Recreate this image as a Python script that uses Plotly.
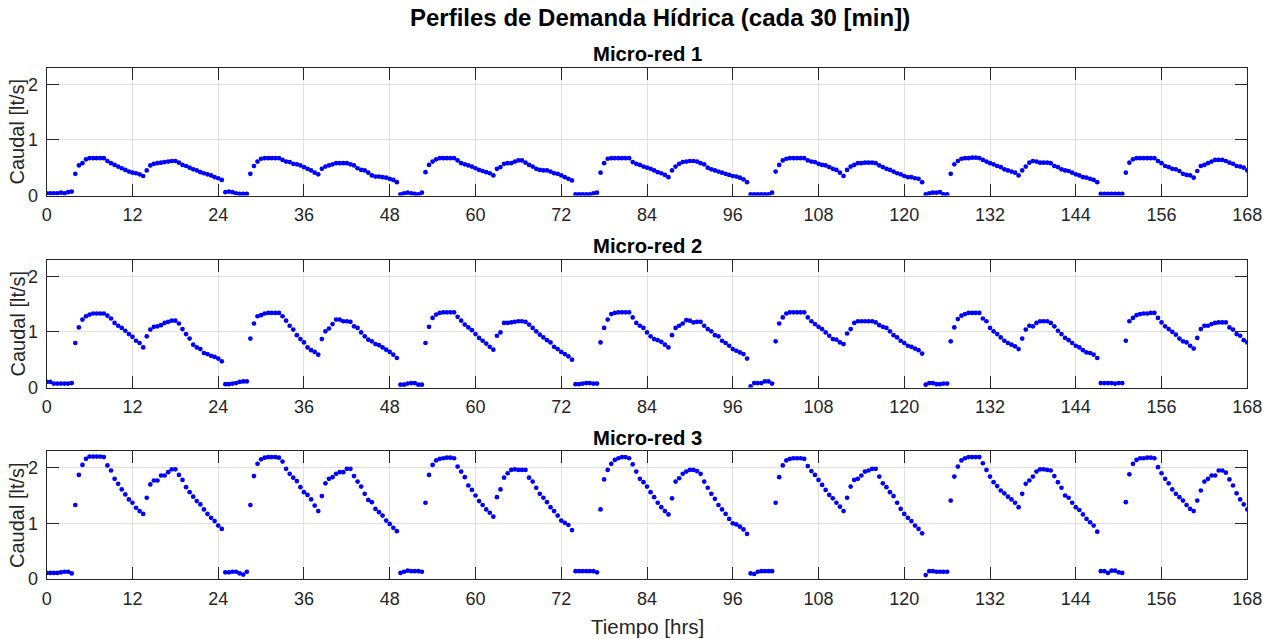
import numpy as np
import plotly.graph_objects as go

# time axis: one sample every 30 min, 0 .. 168 h
t = np.arange(0, 168.0 + 0.25, 0.5)

# ---------------- Micro-red 1 ----------------
mr1_d1 = [0.04, 0.04, 0.04, 0.04, 0.05, 0.04, 0.06, 0.07,
          0.39, 0.54, 0.58, 0.65, 0.67, 0.67, 0.67, 0.67, 0.67, 0.62,
          0.58, 0.55, 0.52, 0.49, 0.46, 0.43, 0.41, 0.40, 0.38, 0.35,
          0.45, 0.54, 0.57, 0.58, 0.59, 0.60, 0.61, 0.62, 0.62, 0.59,
          0.55, 0.53, 0.50, 0.47, 0.45, 0.42, 0.40, 0.38, 0.36, 0.33,
          0.31, 0.28]
mr1_d2 = [0.06, 0.07, 0.06, 0.04, 0.03, 0.03, 0.03,
          0.39, 0.53, 0.61, 0.66, 0.67, 0.67, 0.67, 0.67, 0.67, 0.64,
          0.61, 0.60, 0.57, 0.56, 0.54, 0.51, 0.48, 0.45, 0.41, 0.38,
          0.48, 0.52, 0.54, 0.56, 0.58, 0.58, 0.58, 0.58, 0.56, 0.54,
          0.49, 0.46, 0.45, 0.41, 0.36, 0.34, 0.34, 0.33, 0.32, 0.30,
          0.28, 0.24]
mr1_d3 = [0.02, 0.04, 0.05, 0.04, 0.03, 0.02, 0.05,
          0.42, 0.55, 0.61, 0.65, 0.67, 0.67, 0.67, 0.67, 0.67, 0.63,
          0.58, 0.56, 0.54, 0.52, 0.49, 0.46, 0.44, 0.42, 0.40, 0.36,
          0.48, 0.51, 0.57, 0.58, 0.58, 0.61, 0.63, 0.63, 0.59, 0.55,
          0.52, 0.48, 0.46, 0.45, 0.45, 0.43, 0.40, 0.39, 0.36, 0.33,
          0.30, 0.27]
mr1_d4 = [0.02, 0.02, 0.02, 0.02, 0.02, 0.04, 0.05,
          0.41, 0.58, 0.66, 0.67, 0.67, 0.67, 0.67, 0.67, 0.67, 0.60,
          0.57, 0.55, 0.52, 0.50, 0.48, 0.45, 0.42, 0.40, 0.37, 0.33,
          0.45, 0.52, 0.57, 0.60, 0.61, 0.62, 0.62, 0.61, 0.58, 0.56,
          0.50, 0.47, 0.45, 0.43, 0.41, 0.39, 0.37, 0.35, 0.34, 0.32,
          0.29, 0.24]
mr1_d5 = [0.02, 0.02, 0.02, 0.02, 0.02, 0.02, 0.05,
          0.43, 0.55, 0.63, 0.66, 0.67, 0.67, 0.67, 0.67, 0.67, 0.63,
          0.61, 0.60, 0.57, 0.55, 0.54, 0.51, 0.48, 0.46, 0.41, 0.35,
          0.46, 0.52, 0.55, 0.58, 0.58, 0.59, 0.59, 0.59, 0.58, 0.54,
          0.51, 0.48, 0.46, 0.43, 0.40, 0.38, 0.35, 0.33, 0.33, 0.31,
          0.30, 0.24]
mr1_d6 = [0.02, 0.04, 0.05, 0.05, 0.06, 0.02, 0.02,
          0.39, 0.56, 0.62, 0.66, 0.67, 0.67, 0.68, 0.68, 0.67, 0.64,
          0.61, 0.58, 0.56, 0.53, 0.51, 0.47, 0.45, 0.43, 0.41, 0.36,
          0.45, 0.52, 0.59, 0.62, 0.61, 0.59, 0.59, 0.59, 0.58, 0.53,
          0.51, 0.47, 0.45, 0.44, 0.41, 0.38, 0.36, 0.33, 0.32, 0.30,
          0.28, 0.24]
mr1_d7 = [0.03, 0.03, 0.03, 0.03, 0.03, 0.03, 0.03,
          0.41, 0.59, 0.65, 0.67, 0.67, 0.67, 0.67, 0.67, 0.67, 0.62,
          0.58, 0.53, 0.51, 0.48, 0.47, 0.44, 0.39, 0.37, 0.36, 0.32,
          0.44, 0.53, 0.55, 0.58, 0.61, 0.64, 0.64, 0.64, 0.62, 0.59,
          0.57, 0.53, 0.52, 0.50, 0.45]

# ---------------- Micro-red 2 ----------------
mr2_d1 = [0.10, 0.10, 0.07, 0.07, 0.07, 0.07, 0.07, 0.08,
          0.80, 1.08, 1.22, 1.28, 1.31, 1.33, 1.33, 1.33, 1.33, 1.29,
          1.24, 1.16, 1.11, 1.07, 1.02, 0.96, 0.91, 0.84, 0.80, 0.72,
          0.92, 1.04, 1.09, 1.10, 1.12, 1.16, 1.18, 1.20, 1.20, 1.15,
          1.05, 0.96, 0.88, 0.77, 0.72, 0.69, 0.62, 0.60, 0.57, 0.55,
          0.52, 0.47]
mr2_d2 = [0.06, 0.06, 0.07, 0.08, 0.10, 0.11, 0.11,
          0.88, 1.15, 1.28, 1.30, 1.33, 1.34, 1.34, 1.34, 1.34, 1.28,
          1.20, 1.11, 1.04, 0.94, 0.87, 0.81, 0.72, 0.67, 0.64, 0.59,
          0.87, 1.01, 1.06, 1.14, 1.22, 1.22, 1.19, 1.19, 1.18, 1.10,
          1.07, 0.99, 0.92, 0.86, 0.83, 0.78, 0.76, 0.72, 0.68, 0.64,
          0.59, 0.53]
mr2_d3 = [0.05, 0.05, 0.07, 0.08, 0.08, 0.05, 0.05,
          0.80, 1.09, 1.25, 1.31, 1.34, 1.35, 1.35, 1.35, 1.35, 1.27,
          1.20, 1.13, 1.08, 1.03, 0.96, 0.89, 0.84, 0.79, 0.73, 0.68,
          0.93, 0.99, 1.16, 1.16, 1.17, 1.18, 1.19, 1.19, 1.18, 1.13,
          1.07, 1.01, 0.95, 0.90, 0.85, 0.81, 0.73, 0.69, 0.64, 0.60,
          0.56, 0.50]
mr2_d4 = [0.06, 0.06, 0.07, 0.08, 0.08, 0.07, 0.07,
          0.81, 1.07, 1.22, 1.32, 1.34, 1.35, 1.35, 1.35, 1.35, 1.26,
          1.16, 1.11, 1.07, 0.99, 0.92, 0.87, 0.85, 0.82, 0.77, 0.72,
          0.94, 1.07, 1.11, 1.15, 1.21, 1.20, 1.17, 1.18, 1.18, 1.11,
          1.05, 1.01, 0.94, 0.92, 0.84, 0.80, 0.75, 0.69, 0.66, 0.63,
          0.60, 0.52]
mr2_d5 = [0.02, 0.08, 0.08, 0.08, 0.11, 0.11, 0.07,
          0.83, 1.15, 1.26, 1.33, 1.35, 1.35, 1.35, 1.35, 1.35, 1.26,
          1.19, 1.14, 1.09, 1.05, 0.99, 0.93, 0.87, 0.86, 0.81, 0.78,
          0.97, 1.05, 1.16, 1.19, 1.19, 1.19, 1.19, 1.19, 1.17, 1.12,
          1.09, 1.07, 1.01, 0.94, 0.90, 0.84, 0.80, 0.75, 0.73, 0.70,
          0.67, 0.61]
mr2_d6 = [0.05, 0.08, 0.08, 0.06, 0.06, 0.07, 0.07,
          0.83, 1.08, 1.23, 1.29, 1.32, 1.34, 1.34, 1.34, 1.34, 1.24,
          1.19, 1.07, 1.01, 0.96, 0.90, 0.84, 0.80, 0.77, 0.74, 0.69,
          0.88, 1.04, 1.11, 1.10, 1.16, 1.19, 1.19, 1.19, 1.16, 1.10,
          1.02, 0.96, 0.89, 0.85, 0.80, 0.75, 0.72, 0.67, 0.63, 0.62,
          0.59, 0.53]
mr2_d7 = [0.08, 0.08, 0.08, 0.08, 0.07, 0.08, 0.08,
          0.84, 1.19, 1.25, 1.30, 1.32, 1.33, 1.33, 1.34, 1.34, 1.25,
          1.17, 1.10, 1.05, 1.00, 0.95, 0.88, 0.83, 0.81, 0.75, 0.70,
          0.89, 1.05, 1.11, 1.11, 1.14, 1.16, 1.17, 1.17, 1.17, 1.08,
          1.04, 0.96, 0.93, 0.85, 0.81]

# ---------------- Micro-red 3 ----------------
mr3_d1 = [0.11, 0.11, 0.11, 0.11, 0.12, 0.13, 0.13, 0.10,
          1.33, 1.87, 2.05, 2.16, 2.20, 2.20, 2.20, 2.20, 2.19, 2.04,
          1.95, 1.80, 1.71, 1.61, 1.52, 1.43, 1.37, 1.28, 1.22, 1.17,
          1.46, 1.70, 1.77, 1.77, 1.86, 1.86, 1.92, 1.97, 1.97, 1.87,
          1.78, 1.65, 1.56, 1.48, 1.40, 1.34, 1.25, 1.17, 1.10, 1.04,
          0.96, 0.90]
mr3_d2 = [0.12, 0.12, 0.13, 0.13, 0.10, 0.08, 0.13,
          1.33, 1.85, 2.07, 2.15, 2.18, 2.19, 2.19, 2.19, 2.18, 2.11,
          1.98, 1.89, 1.82, 1.76, 1.65, 1.56, 1.51, 1.43, 1.32, 1.22,
          1.49, 1.72, 1.80, 1.83, 1.89, 1.92, 1.92, 1.98, 1.98, 1.85,
          1.75, 1.66, 1.53, 1.42, 1.38, 1.26, 1.20, 1.14, 1.05, 0.99,
          0.92, 0.86]
mr3_d3 = [0.11, 0.13, 0.15, 0.14, 0.14, 0.14, 0.13,
          1.37, 1.87, 2.05, 2.13, 2.16, 2.17, 2.18, 2.18, 2.17, 2.02,
          1.93, 1.83, 1.68, 1.60, 1.50, 1.40, 1.33, 1.25, 1.19, 1.12,
          1.47, 1.61, 1.82, 1.90, 1.96, 1.97, 1.96, 1.96, 1.96, 1.82,
          1.75, 1.64, 1.53, 1.46, 1.38, 1.29, 1.22, 1.14, 1.05, 1.01,
          0.97, 0.88]
mr3_d4 = [0.14, 0.14, 0.14, 0.14, 0.14, 0.14, 0.12,
          1.25, 1.79, 1.96, 2.07, 2.14, 2.17, 2.19, 2.19, 2.17, 2.06,
          1.93, 1.80, 1.74, 1.66, 1.56, 1.47, 1.37, 1.29, 1.22, 1.16,
          1.45, 1.75, 1.81, 1.89, 1.93, 1.96, 1.96, 1.94, 1.89, 1.75,
          1.64, 1.53, 1.44, 1.33, 1.25, 1.17, 1.08, 1.00, 0.98, 0.94,
          0.89, 0.81]
mr3_d5 = [0.10, 0.09, 0.13, 0.14, 0.14, 0.14, 0.14,
          1.37, 1.83, 2.04, 2.13, 2.16, 2.17, 2.17, 2.17, 2.16, 2.03,
          1.94, 1.87, 1.78, 1.69, 1.60, 1.51, 1.45, 1.37, 1.30, 1.22,
          1.46, 1.66, 1.78, 1.80, 1.86, 1.93, 1.95, 1.98, 1.98, 1.84,
          1.72, 1.65, 1.56, 1.49, 1.37, 1.26, 1.17, 1.10, 1.04, 0.96,
          0.90, 0.82]
mr3_d6 = [0.07, 0.14, 0.14, 0.13, 0.13, 0.13, 0.13,
          1.41, 1.84, 2.02, 2.13, 2.17, 2.19, 2.19, 2.19, 2.19, 2.08,
          1.96, 1.84, 1.74, 1.67, 1.59, 1.54, 1.48, 1.43, 1.37, 1.29,
          1.53, 1.71, 1.77, 1.84, 1.93, 1.97, 1.97, 1.96, 1.95, 1.85,
          1.74, 1.64, 1.50, 1.46, 1.37, 1.29, 1.24, 1.16, 1.08, 1.02,
          0.96, 0.85]
mr3_d7 = [0.14, 0.14, 0.11, 0.15, 0.15, 0.12, 0.11,
          1.38, 1.88, 2.07, 2.14, 2.17, 2.17, 2.18, 2.18, 2.17, 2.01,
          1.90, 1.80, 1.72, 1.61, 1.53, 1.47, 1.41, 1.33, 1.26, 1.22,
          1.41, 1.59, 1.75, 1.80, 1.86, 1.86, 1.95, 1.95, 1.91, 1.79,
          1.68, 1.54, 1.43, 1.34, 1.25]

mr1 = mr1_d1 + mr1_d2 + mr1_d3 + mr1_d4 + mr1_d5 + mr1_d6 + mr1_d7
mr2 = mr2_d1 + mr2_d2 + mr2_d3 + mr2_d4 + mr2_d5 + mr2_d6 + mr2_d7
mr3 = mr3_d1 + mr3_d2 + mr3_d3 + mr3_d4 + mr3_d5 + mr3_d6 + mr3_d7

series = [mr1, mr2, mr3]
titles = ["Micro-red 1", "Micro-red 2", "Micro-red 3"]
x_ticks = list(range(0, 169, 12))
y_ticks = [0, 1, 2]

W, H = 1277, 639
FONT = "Liberation Sans, Arial, Helvetica, sans-serif"
AX = "#262626"
GRID = "#e0e0e0"

# pixel geometry of the three panels
x_left, x_right = 46.7, 1247.3
panel_tops = [67.5, 259.5, 451.0]
panel_h = 128.0

fig = go.Figure()
annotations = []
layout_axes = {}
for i, (ser, ttl) in enumerate(zip(series, titles)):
    n = min(len(ser), len(t))
    xa = "x" if i == 0 else f"x{i+1}"
    ya = "y" if i == 0 else f"y{i+1}"
    fig.add_trace(go.Scatter(
        x=t[:n], y=ser[:n], mode="markers", xaxis=xa, yaxis=ya,
        marker=dict(color="#0000ff", size=4.7, line=dict(width=0)),
        showlegend=False, hoverinfo="x+y"))
    top = panel_tops[i]
    bot = top + panel_h
    xkey = "xaxis" if i == 0 else f"xaxis{i+1}"
    ykey = "yaxis" if i == 0 else f"yaxis{i+1}"
    layout_axes[xkey] = dict(
        domain=[x_left / W, x_right / W], anchor=ya, range=[0, 168],
        automargin=False,
        tickmode="array", tickvals=x_ticks, ticktext=[str(v) for v in x_ticks],
        ticks="inside", ticklen=12, tickwidth=1, tickcolor=AX,
        showline=True, linecolor=AX, linewidth=1, mirror="ticks",
        showgrid=True, gridcolor=GRID, gridwidth=1, zeroline=False,
        tickfont=dict(family=FONT, size=18, color=AX), ticklabelstandoff=3)
    layout_axes[ykey] = dict(
        domain=[1 - bot / H, 1 - top / H], anchor=xa, range=[0, 2.3],
        automargin=False,
        tickmode="array", tickvals=y_ticks, ticktext=[str(v) for v in y_ticks],
        ticks="inside", ticklen=12, tickwidth=1, tickcolor=AX,
        showline=True, linecolor=AX, linewidth=1, mirror="ticks",
        showgrid=True, gridcolor=GRID, gridwidth=1, zeroline=False,
        tickfont=dict(family=FONT, size=18, color=AX), ticklabelstandoff=4)
    # panel title
    annotations.append(dict(
        text=f"<b>{ttl}</b>", x=(x_left + x_right) / 2 / W, y=1 - (top - 13.5) / H,
        xref="paper", yref="paper", xanchor="center", yanchor="middle",
        showarrow=False, font=dict(family=FONT, size=20.3, color="#000000")))
    # y label
    annotations.append(dict(
        text="Caudal [lt/s]", x=17 / W, y=1 - (top + panel_h / 2) / H,
        xref="paper", yref="paper", xanchor="center", yanchor="middle",
        textangle=-90, showarrow=False,
        font=dict(family=FONT, size=20, color=AX)))

annotations.append(dict(
    text="<b>Perfiles de Demanda Hídrica (cada 30 [min])</b>",
    x=660 / W, y=1 - 18 / H, xref="paper", yref="paper",
    xanchor="center", yanchor="middle", showarrow=False,
    font=dict(family=FONT, size=24, color="#000000")))
annotations.append(dict(
    text="Tiempo [hrs]", x=(x_left + x_right) / 2 / W, y=1 - 626 / H,
    xref="paper", yref="paper", xanchor="center", yanchor="middle",
    showarrow=False, font=dict(family=FONT, size=20.5, color=AX)))

fig.update_layout(
    width=W, height=H, margin=dict(l=0, r=0, t=0, b=0, autoexpand=False),
    paper_bgcolor="white", plot_bgcolor="white",
    annotations=annotations, showlegend=False, **layout_axes)

fig.write_html("out.html")
